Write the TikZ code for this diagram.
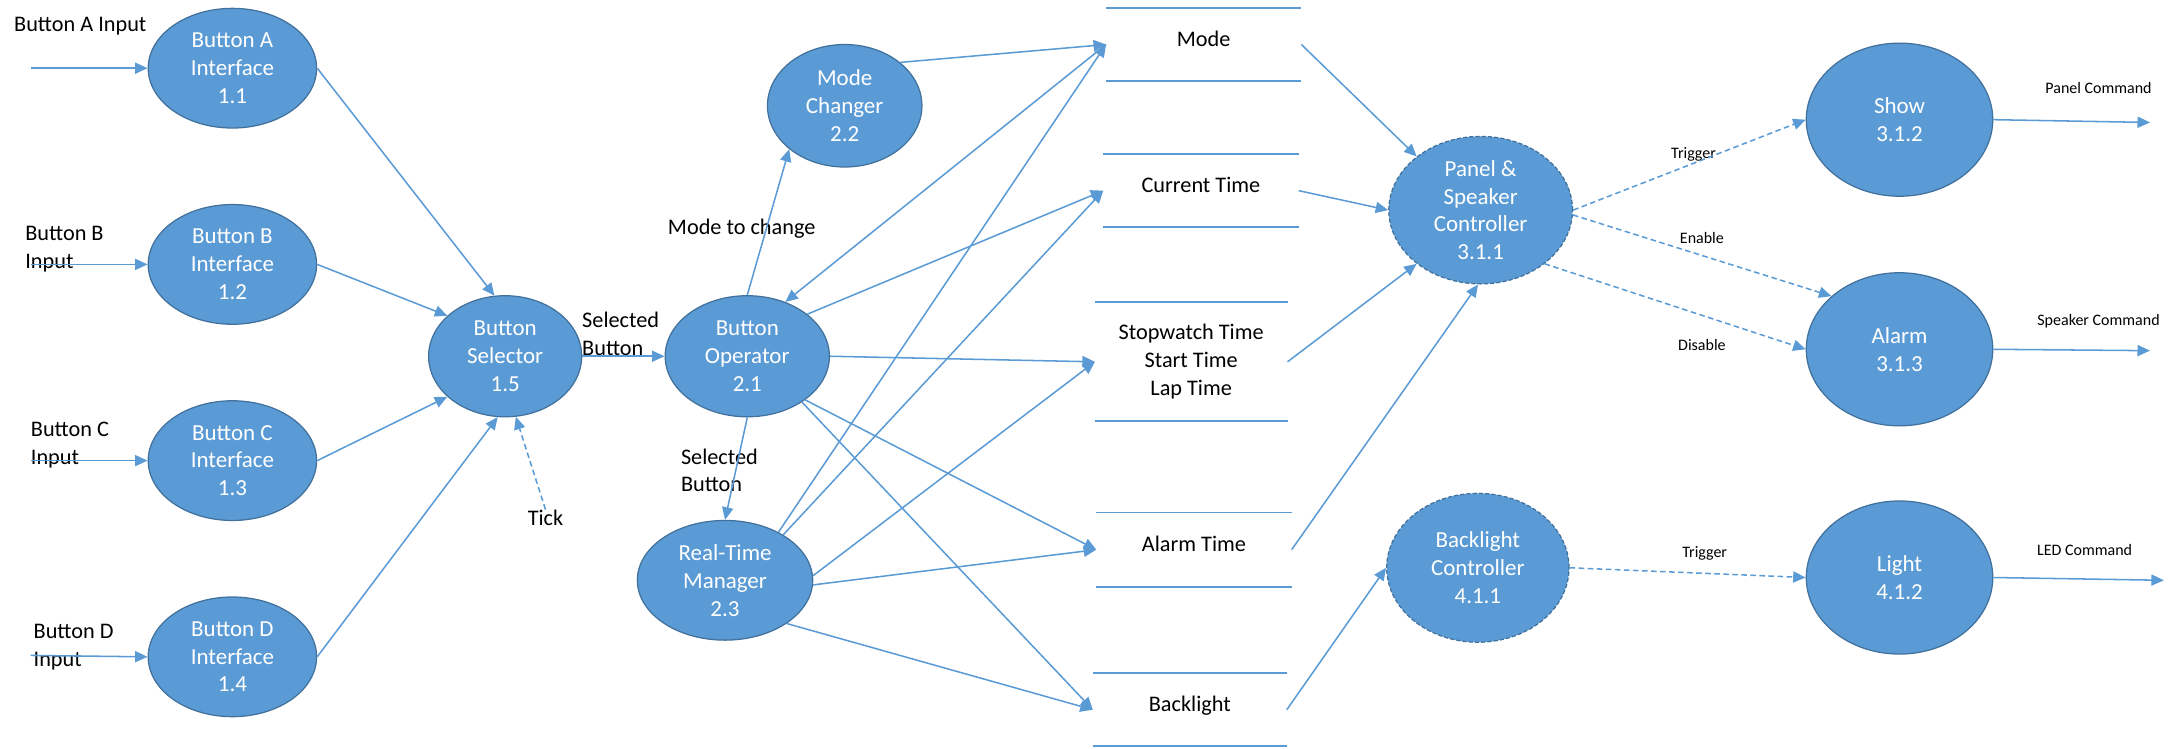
\documentclass[tikz,border=0pt]{standalone}
\usepackage{fontspec}
\setmainfont{Carlito}
\usetikzlibrary{shapes.geometric,arrows.meta}
\definecolor{procblue}{HTML}{5B9BD5}
\definecolor{procedge}{HTML}{41719C}
\begin{document}
\begin{tikzpicture}[x=1pt,y=-1pt]
\tikzstyle{every node}+=[inner sep=0pt]
\tikzstyle{proc}=[ellipse,fill=procblue,draw=procedge,line width=0.9pt,text=white,align=center,font=\fontsize{16.5}{20}\selectfont]
\tikzstyle{ctrl}=[proc,dash pattern=on 3pt off 1.5pt]
\tikzstyle{store}=[rectangle,align=center,font=\fontsize{16}{20}\selectfont]
\tikzstyle{storeone}=[store,text depth=8pt]
\tikzstyle{storeline}=[procblue,line width=1.3pt]
\tikzstyle{lbl}=[align=left,font=\fontsize{16}{20}\selectfont]
\tikzstyle{tag}=[font=\fontsize{11.5}{14}\selectfont]
\tikzstyle{flow}=[procblue,line width=1.1pt,-{Triangle[length=9pt,width=8pt]}]
\tikzstyle{trig}=[flow,dash pattern=on 4pt off 2.5pt]
\useasboundingbox (0,0) rectangle (1568,538);
\node[proc,minimum width=121pt,minimum height=86pt] (a) at (167,49) {Button A\\Interface\\1.1};
\node[proc,minimum width=121pt,minimum height=86pt] (b) at (167,190) {Button B\\Interface\\1.2};
\node[proc,minimum width=121pt,minimum height=86pt] (c) at (167,331) {Button C\\Interface\\1.3};
\node[proc,minimum width=121pt,minimum height=86pt] (d) at (167,472) {Button D\\Interface\\1.4};
\node[proc,minimum width=110pt,minimum height=87pt] (sel) at (363,256) {Button\\Selector\\1.5};
\node[proc,minimum width=118pt,minimum height=87pt] (op) at (537,256) {Button\\Operator\\2.1};
\node[proc,minimum width=111pt,minimum height=88pt] (mc) at (607,76) {Mode\\Changer\\2.2};
\node[proc,minimum width=126pt,minimum height=86pt] (rtm) at (521,417) {Real-Time\\Manager\\2.3};
\node[ctrl,minimum width=132pt,minimum height=106pt] (pan) at (1064,151) {Panel \&\\Speaker\\Controller\\3.1.1};
\node[proc,minimum width=134pt,minimum height=110pt] (show) at (1365,86) {Show\\3.1.2};
\node[proc,minimum width=134pt,minimum height=110pt] (alarm) at (1365,251) {Alarm\\3.1.3};
\node[ctrl,minimum width=131pt,minimum height=107pt] (bc) at (1062,408) {Backlight\\Controller\\4.1.1};
\node[proc,minimum width=134pt,minimum height=110pt] (light) at (1365,415) {Light\\4.1.2};
\node[storeone,minimum width=140pt,minimum height=52pt] (mode) at (865,32) {Mode};
\node[storeone,minimum width=140pt,minimum height=52pt] (ct) at (863,137) {Current Time};
\node[store,minimum width=138pt,minimum height=85pt] (sw) at (856,260) {Stopwatch Time\\Start Time\\Lap Time};
\node[storeone,minimum width=140pt,minimum height=53pt] (at) at (858,395) {Alarm Time};
\node[storeone,minimum width=139pt,minimum height=52pt] (bl) at (855,510) {Backlight};
\foreach \s in {mode,ct,sw,at,bl}
  \draw[storeline] (\s.north west) -- (\s.north east) (\s.south west) -- (\s.south east);
\coordinate (inA) at (22,49);
\coordinate (inB) at (22,190);
\coordinate (inC) at (22,331);
\coordinate (inD) at (22,471);
\coordinate (outS) at (1545,88);
\coordinate (outA) at (1545,252);
\coordinate (outL) at (1555,417);
\node[lbl,anchor=west] (lA) at (10,19) {Button A Input};
\node[lbl,anchor=west] (lB) at (18,179) {Button B\\Input};
\node[lbl,anchor=west] (lC) at (22,320) {Button C\\Input};
\node[lbl,anchor=west] (lD) at (24,465) {Button D\\Input};
\node[lbl] (tick) at (392,372) {Tick};
\node[lbl] (lsel) at (446,240) {Selected\\Button};
\node[lbl] (lmode) at (533,164) {Mode to change};
\node[lbl] (lsel2) at (517,338) {Selected\\Button};
\node[tag] (ltr) at (1217,111) {Trigger};
\node[tag] (len) at (1223,171) {Enable};
\node[tag] (ldis) at (1223,248) {Disable};
\node[tag] (ltr2) at (1225,398) {Trigger};
\node[tag] (lpc) at (1508,63) {Panel Command};
\node[tag] (lsc) at (1508,231) {Speaker Command};
\node[tag] (lled) at (1498,395) {LED Command};
\draw[flow] (inA) -- (a.west);
\draw[flow] (inB) -- (b.west);
\draw[flow] (inC) -- (c.west);
\draw[flow] (inD) -- (d.west);
\draw[flow] (a.east) -- (sel.100);
\draw[flow] (b.east) -- (sel.145);
\draw[flow] (c.east) -- (sel.215);
\draw[flow] (d.east) -- (sel.263);
\draw[trig] (tick.north) -- (sel.280);
\draw[flow] (sel.east) -- (op.west);
\draw[flow] (op.north) -- (mc.218);
\draw[flow] (op.south) -- (rtm.north);
\draw[flow] (mc.38) -- (mode.west);
\draw[flow] (mode.west) -- (op.55);
\draw[flow] (op.35) -- (ct.west);
\draw[flow] (op.east) -- (sw.west);
\draw[flow] (op.-37) -- (at.west);
\draw[flow] (op.-40) -- (bl.west);
\draw[flow] (rtm.42) -- (mode.west);
\draw[flow] (rtm.38) -- (ct.west);
\draw[flow] (rtm.3) -- (sw.west);
\draw[flow] (rtm.-3) -- (at.west);
\draw[flow] (rtm.-35) -- (bl.west);
\draw[flow] (mode.east) -- (pan.140);
\draw[flow] (ct.east) -- (pan.west);
\draw[flow] (sw.east) -- (pan.220);
\draw[flow] (at.east) -- (pan.268);
\draw[flow] (bl.east) -- (bc.west);
\draw[trig] (pan.east) -- (show.west);
\draw[trig] (pan.-3) -- (alarm.142);
\draw[trig] (pan.-40) -- (alarm.west);
\draw[trig] (bc.east) -- (light.west);
\draw[flow] (show.east) -- (outS);
\draw[flow] (alarm.east) -- (outA);
\draw[flow] (light.east) -- (outL);
\end{tikzpicture}
\end{document}
